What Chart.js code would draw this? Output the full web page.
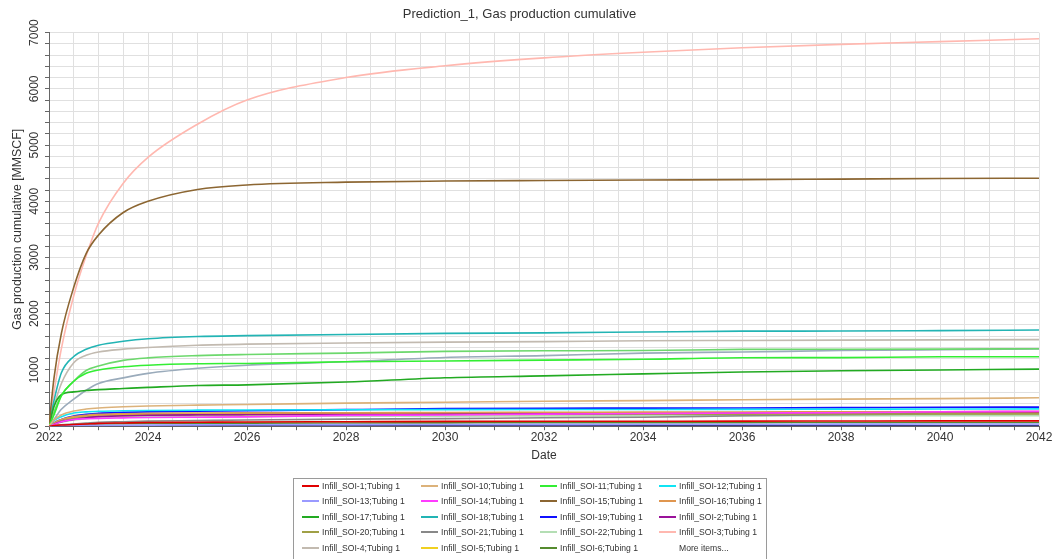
<!DOCTYPE html>
<html>
<head>
<meta charset="utf-8">
<script src="https://cdn.jsdelivr.net/npm/chart.js@4.4.1/dist/chart.umd.min.js"></script>
<style>
  html, body { margin:0; padding:0; background:#fff; }
  #wrap { position:relative; width:1060px; height:559px; overflow:hidden; }
  #legend { position:absolute; left:293px; top:478px; width:474px; height:95px; border:1px solid #9a9a9a; box-sizing:border-box; font-family:"Liberation Sans", Arial, sans-serif; font-size:8.6px; color:#333; }
  .li { position:absolute; height:12px; line-height:12px; white-space:nowrap; }
  .sw { position:absolute; left:0; top:5px; width:17px; height:2px; }
  .lt { position:absolute; left:20px; top:0; }
</style>
</head>
<body>
<div id="wrap">
  <canvas id="c" width="1060" height="559"></canvas>
  <div id="legend"></div>
</div>
<script>
// ---- data ----
const titleText = "Prediction_1, Gas production cumulative";
const xTitle = "Date";
const yTitle = "Gas production cumulative [MMSCF]";
const years = [2022, 2022.1, 2022.25, 2022.5, 2022.75, 2023, 2023.5, 2024, 2025, 2026, 2028, 2030, 2032, 2034, 2036, 2038, 2040, 2042];

const soi1  = [0, 10, 20, 30, 40, 50, 58, 65, 70, 75, 80, 85, 88, 89, 90, 92, 94, 95];
const soi10 = [0, 110, 200, 270, 305, 325, 345, 360, 375, 385, 410, 425, 445, 455, 470, 482, 490, 505];
const soi11 = [0, 200, 540, 800, 940, 1000, 1056, 1085, 1110, 1116, 1146, 1160, 1175, 1190, 1217, 1220, 1235, 1235];
const soi12 = [0, 100, 170, 235, 255, 265, 275, 280, 285, 288, 292, 295, 297, 298, 300, 303, 305, 308];
const soi13 = [0, 4, 8, 12, 14, 15, 18, 20, 23, 25, 28, 30, 32, 34, 35, 37, 38, 40];
const soi14 = [0, 30, 80, 120, 132, 140, 148, 155, 160, 165, 192, 200, 215, 225, 235, 240, 258, 265];
const soi15 = [0, 850, 1650, 2470, 3070, 3400, 3800, 4000, 4210, 4290, 4340, 4360, 4370, 4378, 4385, 4395, 4405, 4410];
const soi16 = [0, 60, 120, 170, 195, 210, 222, 230, 235, 238, 240, 244, 247, 250, 253, 255, 258, 260];
const soi17 = [0, 350, 560, 610, 635, 650, 670, 690, 725, 735, 785, 862, 895, 930, 965, 985, 1000, 1015];
const soi18 = [0, 450, 950, 1240, 1370, 1440, 1510, 1555, 1595, 1610, 1632, 1650, 1660, 1675, 1690, 1692, 1700, 1710];
const soi19 = [0, 60, 120, 180, 210, 230, 245, 255, 265, 275, 295, 312, 320, 322, 325, 330, 337, 340];
const soi2  = [0, 40, 80, 120, 150, 170, 185, 195, 203, 207, 212, 215, 222, 230, 240, 245, 248, 250];
const soi20 = [0, 40, 90, 140, 165, 178, 188, 195, 200, 203, 206, 209, 211, 213, 215, 217, 219, 220];
const soi21 = [0, 10, 25, 40, 55, 70, 80, 90, 100, 110, 125, 135, 150, 160, 185, 205, 220, 225];
const soi22 = [0, 30, 70, 110, 135, 150, 160, 168, 172, 175, 178, 180, 182, 184, 185, 186, 187, 188];
const soi3  = [0, 600, 1380, 2320, 3030, 3610, 4320, 4780, 5370, 5800, 6200, 6410, 6550, 6650, 6730, 6790, 6840, 6890];
const soi4  = [0, 350, 760, 1130, 1260, 1320, 1370, 1400, 1440, 1460, 1480, 1495, 1505, 1520, 1525, 1530, 1535, 1540];
const soi5  = [0, 50, 110, 160, 185, 200, 208, 215, 218, 220, 222, 225, 227, 229, 230, 232, 234, 235];
const soi6  = [0, 8, 18, 28, 35, 40, 45, 48, 52, 55, 58, 60, 62, 63, 64, 65, 66, 67];
const soi7  = [0, 250, 550, 800, 990, 1070, 1170, 1215, 1255, 1275, 1300, 1330, 1342, 1345, 1366, 1368, 1370, 1377];
const soi8  = [0, 120, 300, 480, 640, 760, 860, 940, 1030, 1085, 1145, 1222, 1255, 1300, 1320, 1345, 1360, 1372];
const soi9  = [0, 1, 2, 3, 4, 5, 5, 6, 6, 7, 7, 8, 8, 8, 9, 9, 9, 10];

const yMajorTicks = [0, 1000, 2000, 3000, 4000, 5000, 6000, 7000];
const xLabelYears = [2022, 2024, 2026, 2028, 2030, 2032, 2034, 2036, 2038, 2040, 2042];

// legend order (row-major), plus extra series under "More items..."
const seriesDefs = [
  ["Infill_SOI-1;Tubing 1",  soi1,  "#e00000", true],
  ["Infill_SOI-10;Tubing 1", soi10, "#dcb27a", true],
  ["Infill_SOI-11;Tubing 1", soi11, "#33ee33", true],
  ["Infill_SOI-12;Tubing 1", soi12, "#10e4f4", true],
  ["Infill_SOI-13;Tubing 1", soi13, "#9a9aff", true],
  ["Infill_SOI-14;Tubing 1", soi14, "#ff3cff", true],
  ["Infill_SOI-15;Tubing 1", soi15, "#8c6632", true],
  ["Infill_SOI-16;Tubing 1", soi16, "#e0964f", true],
  ["Infill_SOI-17;Tubing 1", soi17, "#22aa22", true],
  ["Infill_SOI-18;Tubing 1", soi18, "#22b4b4", true],
  ["Infill_SOI-19;Tubing 1", soi19, "#1010ff", true],
  ["Infill_SOI-2;Tubing 1",  soi2,  "#9a129a", true],
  ["Infill_SOI-20;Tubing 1", soi20, "#a0a046", true],
  ["Infill_SOI-21;Tubing 1", soi21, "#888888", true],
  ["Infill_SOI-22;Tubing 1", soi22, "#b4deb4", true],
  ["Infill_SOI-3;Tubing 1",  soi3,  "#ffb8b0", true],
  ["Infill_SOI-4;Tubing 1",  soi4,  "#c2bab0", true],
  ["Infill_SOI-5;Tubing 1",  soi5,  "#f0d020", true],
  ["Infill_SOI-6;Tubing 1",  soi6,  "#558b2f", true],
  ["Infill_SOI-7;Tubing 1",  soi7,  "#6cd86c", false],
  ["Infill_SOI-8;Tubing 1",  soi8,  "#9aabbb", false],
  ["Infill_SOI-9;Tubing 1",  soi9,  "#3a3a8a", false]
];
const moreText = "More items...";

const FONT = '"Liberation Sans", Arial, sans-serif';

const datasets = seriesDefs.map(([name, vals, color, inLegend]) => ({
  label: name,
  data: vals.map((v, i) => ({ x: years[i], y: v })),
  borderColor: color,
  backgroundColor: color,
  borderWidth: 1.6,
  pointRadius: 0,
  fill: false,
  cubicInterpolationMode: 'monotone',
  inLegend: inLegend
}));

const rotYLabels = {
  id: 'rotYLabels',
  afterDraw(chart) {
    const s = chart.scales.y, ctx = chart.ctx;
    ctx.save();
    ctx.font = '12px ' + FONT;
    ctx.fillStyle = '#333';
    ctx.textAlign = 'center';
    ctx.textBaseline = 'middle';
    s.ticks.forEach(t => {
      if (yMajorTicks.includes(t.value)) {
        const y = s.getPixelForValue(t.value);
        ctx.save();
        ctx.translate(35, y);
        ctx.rotate(-Math.PI / 2);
        ctx.fillText(String(t.value), 0, 0);
        ctx.restore();
      }
    });
    ctx.restore();
  }
};

const chart = new Chart(document.getElementById('c'), {
  type: 'line',
  data: { datasets },
  plugins: [rotYLabels],
  options: {
    responsive: false,
    animation: false,
    devicePixelRatio: 1,
    layout: { padding: { left: 0, right: 21, top: 0, bottom: 96 } },
    plugins: {
      legend: { display: false },
      tooltip: { enabled: false },
      title: {
        display: true, text: titleText, color: '#333',
        font: { family: FONT, size: 13, weight: 'normal' },
        padding: { top: 7, bottom: 10 }
      }
    },
    scales: {
      x: {
        type: 'linear', min: 2022, max: 2042,
        ticks: {
          stepSize: 0.5, autoSkip: false, maxRotation: 0, minRotation: 0, padding: 0,
          color: '#333', font: { family: FONT, size: 12 },
          callback: v => xLabelYears.includes(v) ? String(v) : ''
        },
        grid: { color: '#e0e0e0', lineWidth: 1, drawTicks: true, tickLength: 4, tickColor: '#666' },
        border: { display: true, color: '#666', width: 1 },
        title: { display: true, text: xTitle, color: '#333', font: { family: FONT, size: 12 }, padding: { top: 4, bottom: 0 } }
      },
      y: {
        type: 'linear', min: 0, max: 7000,
        afterFit: s => { s.width = 49; },
        ticks: { stepSize: 200, display: false },
        grid: {
          color: '#e0e0e0', lineWidth: 1, drawTicks: true, tickLength: 4,
          tickColor: '#666'
        },
        border: { display: true, color: '#666', width: 1 },
        title: { display: true, text: yTitle, color: '#333', font: { family: FONT, size: 12.3 }, padding: { top: 10, bottom: 0 } }
      }
    }
  }
});

// HTML legend built from the chart datasets
const leg = document.getElementById('legend');
const items = chart.data.datasets.filter(d => d.inLegend).map(d => ({ text: d.label, color: d.borderColor }));
items.push({ text: moreText, color: null });
items.forEach((it, i) => {
  const col = i % 4, row = Math.floor(i / 4);
  const el = document.createElement('div');
  el.className = 'li';
  el.style.left = (8 + col * 119) + 'px';
  el.style.top = (1 + row * 15.4) + 'px';
  if (it.color) {
    const sw = document.createElement('div');
    sw.className = 'sw';
    sw.style.background = it.color;
    el.appendChild(sw);
  }
  const t = document.createElement('div');
  t.className = 'lt';
  t.textContent = it.text;
  el.appendChild(t);
  leg.appendChild(el);
});
</script>
</body>
</html>
